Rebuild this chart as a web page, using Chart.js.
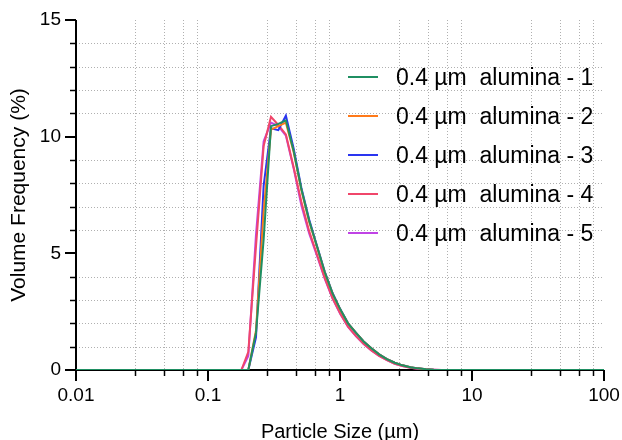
<!DOCTYPE html>
<html>
<head>
<meta charset="utf-8">
<script src="https://cdn.jsdelivr.net/npm/chart.js@4/dist/chart.umd.min.js"></script>
<style>
  html, body { margin: 0; padding: 0; background: #ffffff; }
  #wrap { width: 622px; height: 440px; }
</style>
</head>
<body>
<div id="wrap"><canvas id="c" width="622" height="440"></canvas></div>
<script>
// ---- data ----
const particleSizes = [0.01, 0.179, 0.202, 0.231, 0.264, 0.300, 0.341, 0.389, 0.445, 0.510, 0.584, 0.669, 0.766, 0.878, 1.005, 1.151, 1.318, 1.510, 1.729, 1.980, 2.268, 2.598, 2.976, 3.409, 3.905, 4.472, 5.122, 5.867, 6.720, 100];

const alumina1 = [0, 0, 0, 1.6, 5.6, 10.45, 10.55, 10.7, 9.4, 7.75, 6.4, 5.3, 4.2, 3.28, 2.6, 2.0, 1.6, 1.22, 0.93, 0.67, 0.47, 0.31, 0.2, 0.12, 0.07, 0.035, 0.015, 0.005, 0, 0];
const alumina2 = [0, 0, 0, 1.7, 6.8, 10.3, 10.45, 10.6, 9.35, 7.7, 6.35, 5.28, 4.18, 3.27, 2.58, 2.0, 1.6, 1.22, 0.93, 0.67, 0.47, 0.31, 0.2, 0.12, 0.07, 0.035, 0.015, 0.005, 0, 0];
const alumina3 = [0, 0, 0, 1.4, 7.9, 10.36, 10.28, 10.9, 9.5, 7.8, 6.45, 5.32, 4.22, 3.3, 2.6, 2.0, 1.6, 1.22, 0.93, 0.67, 0.47, 0.31, 0.2, 0.12, 0.07, 0.035, 0.015, 0.005, 0, 0];
const alumina4 = [0, 0, 0.78, 5.3, 9.6, 10.85, 10.5, 10.1, 8.7, 7.2, 5.95, 4.95, 3.95, 3.08, 2.42, 1.86, 1.46, 1.12, 0.84, 0.6, 0.42, 0.27, 0.17, 0.1, 0.055, 0.025, 0.01, 0, 0, 0];
const alumina5 = [0, 0, 0.6, 5.8, 9.8, 10.6, 10.45, 10.05, 8.65, 7.05, 5.85, 4.9, 3.92, 3.06, 2.4, 1.85, 1.45, 1.11, 0.84, 0.6, 0.42, 0.27, 0.17, 0.1, 0.055, 0.025, 0.01, 0, 0, 0];

const seriesLabels = ['0.4 µm  alumina - 1', '0.4 µm  alumina - 2', '0.4 µm  alumina - 3', '0.4 µm  alumina - 4', '0.4 µm  alumina - 5'];
const seriesValues = [alumina1, alumina2, alumina3, alumina4, alumina5];
const seriesColors = ['#1f8f62', '#ff7a1a', '#2a35f0', '#f0466a', '#c043e6'];

const xTickValues = [0.01, 0.1, 1, 10, 100];
const xTickLabels = ['0.01', '0.1', '1', '10', '100'];
const xMinorMultipliers = [2.8, 4.65, 6.5, 8.3];
const yTickValues = [0, 5, 10, 15];
const yMinorValues = [1, 2, 3, 4, 6, 7, 8, 9, 11, 12, 13, 14];

const FONT = "'Liberation Sans', Arial, sans-serif";

const datasets = seriesValues.map((vals, i) => ({
  label: seriesLabels[i],
  data: particleSizes.map((x, j) => ({ x: x, y: vals[j] })),
  borderColor: seriesColors[i],
  backgroundColor: seriesColors[i],
  borderWidth: 2,
  pointRadius: 0,
  tension: 0,
  fill: false
}));

const axesPlugin = {
  id: 'axesPlugin',
  beforeDatasetsDraw(chart) {
    const { ctx, chartArea: a, scales } = chart;
    const xs = scales.x, ys = scales.y;
    ctx.save();
    // dotted minor grid
    ctx.strokeStyle = '#b0b0b0';
    ctx.lineWidth = 1;
    ctx.setLineDash([1, 2]);
    for (let d = 0; d < xTickValues.length - 1; d++) {
      for (const m of xMinorMultipliers) {
        const px = Math.round(xs.getPixelForValue(xTickValues[d] * m)) + 0.5;
        ctx.beginPath(); ctx.moveTo(px, a.top); ctx.lineTo(px, a.bottom); ctx.stroke();
      }
    }
    for (const v of yMinorValues) {
      const py = Math.round(ys.getPixelForValue(v)) + 0.5;
      ctx.beginPath(); ctx.moveTo(a.left, py); ctx.lineTo(a.right, py); ctx.stroke();
    }
    ctx.setLineDash([]);
    // ticks
    ctx.strokeStyle = '#000';
    ctx.lineWidth = 1.5;
    for (let d = 0; d < xTickValues.length - 1; d++) {
      for (const m of xMinorMultipliers) {
        const px = Math.round(xs.getPixelForValue(xTickValues[d] * m)) + 0.5;
        ctx.beginPath(); ctx.moveTo(px, a.bottom); ctx.lineTo(px, a.bottom + 6); ctx.stroke();
      }
    }
    for (const v of yMinorValues) {
      const py = Math.round(ys.getPixelForValue(v)) + 0.5;
      ctx.beginPath(); ctx.moveTo(a.left - 6, py); ctx.lineTo(a.left, py); ctx.stroke();
    }
    ctx.lineWidth = 2;
    for (const v of xTickValues) {
      const px = Math.round(xs.getPixelForValue(v));
      ctx.beginPath(); ctx.moveTo(px, a.bottom); ctx.lineTo(px, a.bottom + 11); ctx.stroke();
    }
    for (const v of yTickValues) {
      const py = Math.round(ys.getPixelForValue(v));
      ctx.beginPath(); ctx.moveTo(a.left - 11, py); ctx.lineTo(a.left, py); ctx.stroke();
    }
    // axis lines
    ctx.beginPath();
    ctx.moveTo(Math.round(a.left), a.top);
    ctx.lineTo(Math.round(a.left), Math.round(a.bottom));
    ctx.lineTo(a.right, Math.round(a.bottom));
    ctx.stroke();
    ctx.restore();
  },
  afterDraw(chart) {
    const { ctx } = chart;
    ctx.save();
    ctx.font = '23px ' + FONT;
    ctx.textBaseline = 'middle';
    ctx.textAlign = 'left';
    chart.data.datasets.forEach((ds, i) => {
      const yy = 77 + i * 39;
      ctx.strokeStyle = ds.borderColor;
      ctx.lineWidth = 2;
      ctx.beginPath(); ctx.moveTo(348, yy); ctx.lineTo(378, yy); ctx.stroke();
      ctx.fillStyle = '#000';
      ctx.fillText(ds.label, 396, yy + 1.5);
    });
    ctx.restore();
  }
};

new Chart(document.getElementById('c'), {
  type: 'line',
  data: { datasets },
  options: {
    responsive: false,
    animation: false,
    devicePixelRatio: 1,
    layout: { padding: { left: 0, right: 18, top: 20, bottom: 0 } },
    plugins: { legend: { display: false }, tooltip: { enabled: false } },
    scales: {
      x: {
        type: 'logarithmic',
        min: 0.01,
        max: 100,
        afterBuildTicks: (s) => { s.ticks = xTickValues.map(v => ({ value: v })); },
        afterFit: (s) => { s.height = 70; s.paddingLeft = 0; s.paddingRight = 0; },
        grid: { display: false, drawTicks: false },
        border: { display: false },
        ticks: {
          autoSkip: false,
          maxRotation: 0,
          padding: 14,
          color: '#000',
          font: { family: FONT, size: 19 },
          callback: (v, i) => xTickLabels[i]
        },
        title: {
          display: true,
          text: 'Particle Size (µm)',
          color: '#000',
          font: { family: FONT, size: 20, lineHeight: 1 },
          padding: { top: 0, bottom: -2 }
        }
      },
      y: {
        type: 'linear',
        min: 0,
        max: 15,
        afterBuildTicks: (s) => { s.ticks = yTickValues.map(v => ({ value: v })); },
        afterFit: (s) => { s.width = 76; s.paddingTop = 0; s.paddingBottom = 0; },
        grid: { display: false, drawTicks: false },
        border: { display: false },
        ticks: {
          padding: 15,
          color: '#000',
          font: { family: FONT, size: 19 }
        },
        title: {
          display: true,
          text: 'Volume Frequency (%)',
          color: '#000',
          font: { family: FONT, size: 21, lineHeight: 1.2 },
          padding: { top: 7, bottom: 0 }
        }
      }
    }
  },
  plugins: [axesPlugin]
});
</script>
</body>
</html>
